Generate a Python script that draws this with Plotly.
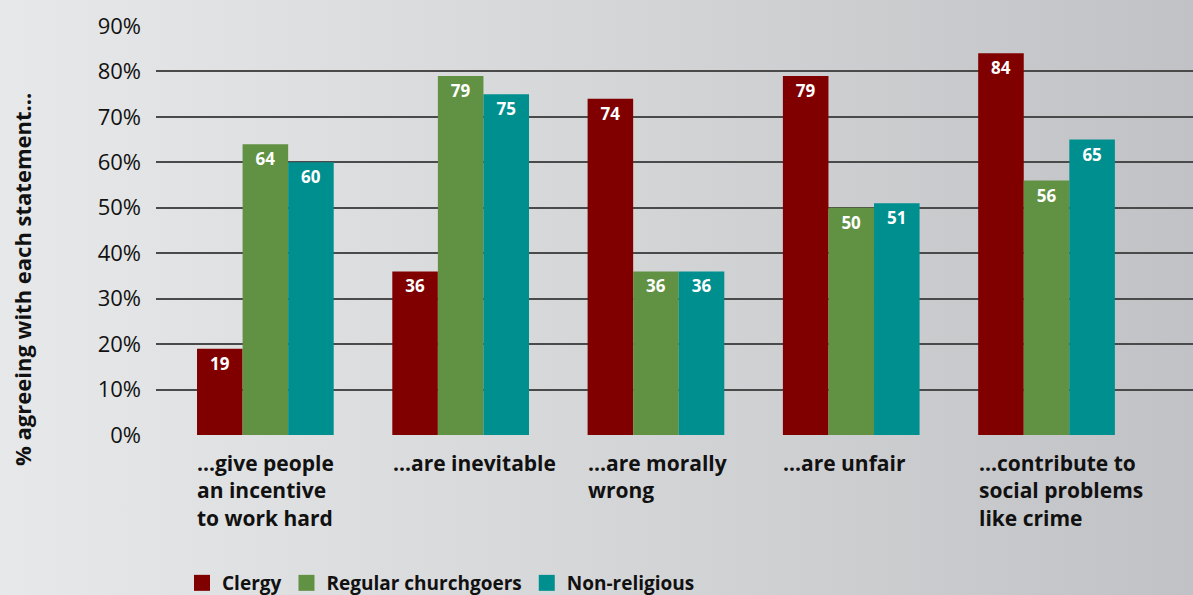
import base64
import plotly.graph_objects as go

categories = ["...give people<br>an incentive<br>to work hard",
              "...are inevitable",
              "...are morally<br>wrong",
              "...are unfair",
              "...contribute to<br>social problems<br>like crime"]
clergy = [19, 36, 74, 79, 84]
churchgoers = [64, 79, 36, 50, 56]
nonreligious = [60, 75, 36, 51, 65]
series_names = ["Clergy", "Regular churchgoers", "Non-religious"]
series_colors = ["#800000", "#619142", "#008f8f"]
y_ticks = [0, 10, 20, 30, 40, 50, 60, 70, 80, 90]

FONT = "Open Sans"
W, H = 1193, 595
ML, MR, MT, MB = 156, 0, 26, 160
PW = W - ML - MR
PH = H - MT - MB

idx = list(range(len(categories)))
fig = go.Figure()
for name, vals, col in zip(series_names, [clergy, churchgoers, nonreligious], series_colors):
    fig.add_trace(go.Bar(
        x=idx, y=vals, name=name, marker=dict(color=col, line=dict(width=0)),
        text=[str(v) for v in vals], textposition="inside", insidetextanchor="end",
        textfont=dict(family=FONT, size=17, color="white", weight="bold"),
        constraintext="none", showlegend=False, cliponaxis=False))
    fig.add_trace(go.Scatter(
        x=[None], y=[None], mode="markers", name=name,
        marker=dict(symbol="square", size=16, color=col)))

svg = ('<svg xmlns="http://www.w3.org/2000/svg" width="1193" height="595" preserveAspectRatio="none">'
       '<defs><linearGradient id="g" x1="0" y1="0" x2="1" y2="0">'
       '<stop offset="0" stop-color="#e7e8e9"/><stop offset="0.5" stop-color="#d5d6d8"/>'
       '<stop offset="1" stop-color="#c1c2c5"/></linearGradient></defs>'
       '<rect width="1193" height="595" fill="url(#g)"/></svg>')
src = "data:image/svg+xml;base64," + base64.b64encode(svg.encode()).decode()

annotations = []
for i, c in enumerate(categories):
    annotations.append(dict(
        x=i, xref="x", y=0, yref="paper", yanchor="top", xanchor="left",
        xshift=-70, yshift=-12, text=c, showarrow=False, align="left",
        font=dict(family=FONT, size=21, color="#111111", weight="bold")))
annotations.append(dict(
    x=(22 - ML) / PW, xref="paper", y=(H - MB - 280) / PH, yref="paper",
    xanchor="center", yanchor="middle",
    text="% agreeing with each statement...", textangle=-90, showarrow=False,
    font=dict(family=FONT, size=22, color="#111111", weight="bold")))

fig.update_layout(
    width=W, height=H,
    margin=dict(l=ML, r=MR, t=MT, b=MB, pad=0, autoexpand=False),
    paper_bgcolor="#d5d6d8", plot_bgcolor="rgba(0,0,0,0)",
    barmode="group", bargap=0.30, bargroupgap=0,
    images=[dict(source=src, xref="paper", yref="paper", x=-ML / PW, y=1 + MT / PH,
                 sizex=W / PW, sizey=H / PH, sizing="stretch", layer="below",
                 xanchor="left", yanchor="top")],
    xaxis=dict(range=[-0.56, 4.75], showticklabels=False, showgrid=False,
               zeroline=False, showline=False, fixedrange=True),
    yaxis=dict(range=[0, 90], tickvals=y_ticks, ticktext=[f"{v}%" for v in y_ticks],
               showgrid=True, gridcolor="#4a4a4a", gridwidth=2, zeroline=False,
               showline=False, ticks="", ticklabelstandoff=14,
               tickfont=dict(family=FONT, size=22, color="#111111")),
    legend=dict(orientation="h", x=(182 - ML) / PW, xanchor="left",
                y=(H - 583) / H, yref="container", yanchor="middle",
                font=dict(family=FONT, size=19, color="#111111", weight="bold"),
                bgcolor="rgba(0,0,0,0)", itemwidth=30),
    annotations=annotations,
    font=dict(family=FONT),
)
fig.write_html("out.html")
